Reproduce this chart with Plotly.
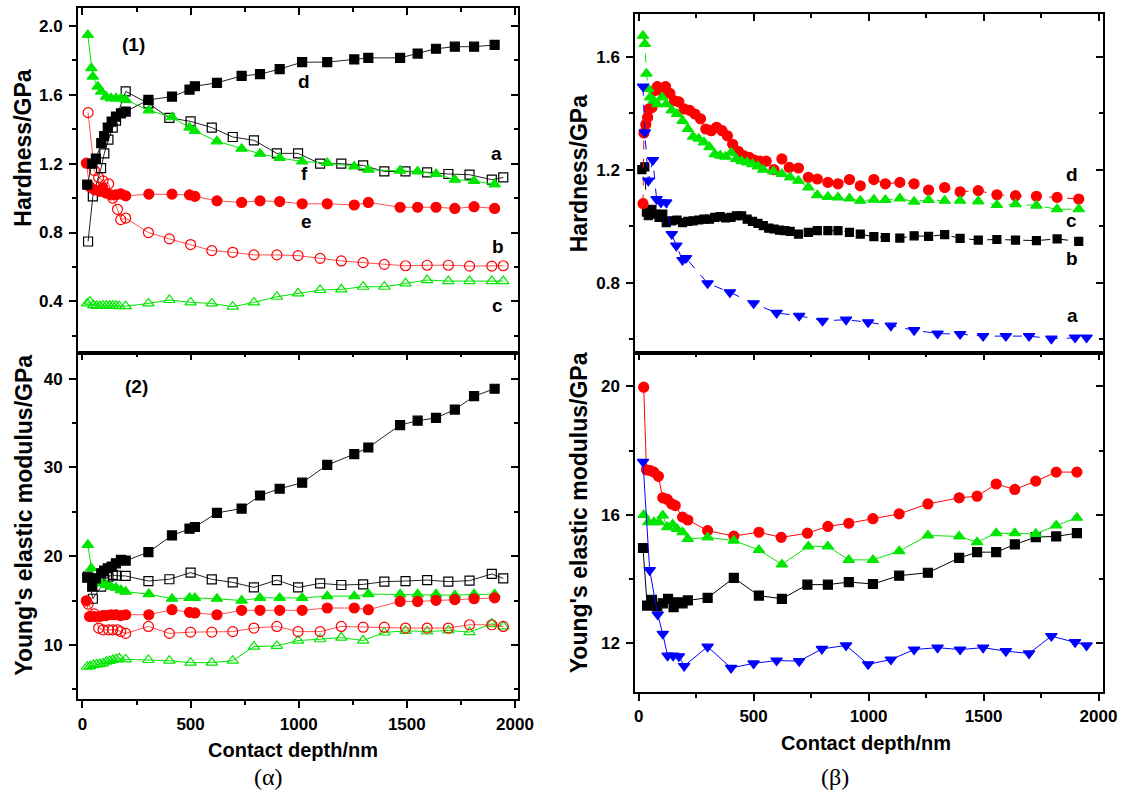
import plotly.graph_objects as go

# ---------------- (α) hardness, curves a–f ----------------
a_f_depth = [26, 48, 86, 101, 120, 140, 155, 200, 305, 402, 500, 598, 695, 793, 899, 997,
             1099, 1197, 1298, 1396, 1494, 1594, 1692, 1790, 1893, 1946]
a_f_hard = [0.748, 1.01, 1.174, 1.26, 1.34, 1.41, 1.45, 1.62, 1.55, 1.466, 1.446, 1.41, 1.355,
            1.336, 1.26, 1.26, 1.20, 1.20, 1.19, 1.155, 1.155, 1.15, 1.14, 1.136, 1.107, 1.12]
a_f_mod = [17.7, 15.2, 16.56, 17.3, 17.7, 17.9, 17.8, 17.77, 17.2, 17.4, 18.15, 17.39, 17.05,
           16.48, 17.31, 16.48, 16.94, 16.75, 16.82, 17.13, 17.2, 17.31, 17.13, 17.24, 18.0, 17.5]

a_d_depth = [22, 45, 62, 87, 100, 117, 135, 155, 178, 200, 305, 414, 495, 520, 622, 736, 821,
             912, 1016, 1132, 1257, 1322, 1469, 1550, 1635, 1722, 1811, 1906]
a_d_hard = [1.078, 1.20, 1.23, 1.32, 1.36, 1.41, 1.445, 1.474, 1.493, 1.503, 1.571, 1.59, 1.63,
            1.65, 1.67, 1.71, 1.72, 1.75, 1.79, 1.79, 1.806, 1.815, 1.815, 1.84, 1.868, 1.88,
            1.88, 1.89]
a_d_mod = [17.58, 16.56, 17.5, 18.07, 18.37, 18.64, 18.83, 19.2, 19.58, 19.5, 20.45, 22.34,
           23.1, 23.29, 24.88, 25.37, 26.84, 27.6, 28.28, 30.28, 31.5, 32.25, 34.78, 35.27,
           35.58, 36.52, 38.03, 38.87]

a_a_depth = [25, 41, 48, 71, 87, 109, 132, 155, 178, 200, 307, 414, 495, 520, 622, 736, 821,
             912, 1016, 1132, 1257, 1322, 1469, 1550, 1635, 1722, 1811, 1906]
a_a_hard = [1.948, 1.755, 1.706, 1.648, 1.619, 1.59, 1.58, 1.58, 1.58, 1.571, 1.51, 1.47, 1.41,
            1.39, 1.33, 1.287, 1.258, 1.233, 1.213, 1.204, 1.184, 1.165, 1.16, 1.155, 1.14,
            1.107, 1.10, 1.08]
a_a_mod = [21.28, 18.64, 17.6, 17.13, 16.94, 16.75, 16.56, 16.44, 16.18, 15.99, 15.73, 15.2,
           15.3, 15.3, 15.2, 15.0, 15.3, 15.3, 15.3, 15.5, 15.5, 15.73, 15.7, 15.7, 15.7, 15.6,
           15.7, 15.7]

a_e_depth = [18, 33, 56, 79, 94, 109, 132, 155, 177, 200, 307, 414, 495, 520, 622, 736, 821,
             912, 1016, 1132, 1257, 1322, 1469, 1550, 1635, 1722, 1811, 1906]
a_e_hard = [1.203, 1.068, 1.048, 1.039, 1.06, 1.029, 1.019, 1.019, 1.025, 1.013, 1.023, 1.023,
            1.019, 1.01, 0.984, 0.975, 0.984, 0.98, 0.967, 0.967, 0.96, 0.975, 0.947, 0.947,
            0.947, 0.94, 0.95, 0.94]
a_e_mod = [14.97, 13.2, 13.2, 13.2, 13.3, 13.3, 13.4, 13.4, 13.3, 13.4, 13.4, 13.97, 13.67,
           13.6, 13.4, 13.9, 13.9, 13.9, 13.9, 14.16, 14.16, 13.97, 14.9, 14.9, 15.03, 15.1,
           15.2, 15.3]

a_b_depth = [26, 55, 75, 95, 121, 140, 162, 177, 200, 305, 402, 500, 598, 695, 793, 899, 997,
             1099, 1197, 1298, 1396, 1494, 1594, 1692, 1790, 1893, 1946]
a_b_hard = [1.497, 1.16, 1.12, 1.10, 1.083, 1.0, 0.935, 0.875, 0.884, 0.80, 0.763, 0.73, 0.695,
            0.685, 0.67, 0.67, 0.666, 0.65, 0.635, 0.625, 0.615, 0.607, 0.61, 0.61, 0.605,
            0.605, 0.607]
a_b_mod = [14.6, 13.5, 11.9, 11.7, 11.7, 11.7, 11.7, 11.5, 11.3, 12.08, 11.3, 11.44, 11.44,
           11.5, 11.9, 12.08, 11.5, 11.5, 12.08, 12.0, 12.0, 11.9, 11.9, 11.9, 12.27, 12.27,
           12.08]

a_c_depth = [22, 35, 50, 65, 80, 95, 110, 125, 140, 155, 170, 200, 305, 402, 500, 598, 695,
             793, 899, 997, 1099, 1197, 1298, 1396, 1494, 1594, 1692, 1790, 1893, 1946]
a_c_hard = [0.388, 0.398, 0.378, 0.373, 0.373, 0.375, 0.375, 0.374, 0.375, 0.374, 0.372, 0.372,
            0.388, 0.408, 0.394, 0.388, 0.369, 0.394, 0.427, 0.447, 0.466, 0.47, 0.485, 0.485,
            0.505, 0.524, 0.518, 0.518, 0.518, 0.518]
a_c_mod = [7.54, 7.6, 7.73, 7.8, 7.84, 7.92, 8.1, 8.2, 8.3, 8.4, 8.49, 8.37, 8.3, 8.22, 8.0,
           8.0, 8.22, 9.81, 9.89, 10.49, 10.64, 10.83, 10.49, 11.4, 11.59, 11.51, 11.63, 11.44,
           12.38, 12.08]

# ---------------- (β) hardness, curves a–d ----------------
b_d_h_depth = [19, 23, 31, 39, 45, 58, 70, 81, 97, 117, 136, 156, 175, 198, 222, 245, 269, 292,
               316, 339, 363, 386, 409, 433, 456, 480, 503, 527, 555, 589, 623, 655, 695, 738,
               777, 823, 867, 917, 964, 1023, 1073, 1136, 1198, 1261, 1331, 1398, 1477, 1558,
               1639, 1730, 1820, 1914]
b_d_hard = [1.08, 1.33, 1.36, 1.385, 1.415, 1.42, 1.48, 1.494, 1.48, 1.494, 1.47, 1.444, 1.44,
            1.415, 1.41, 1.397, 1.38, 1.344, 1.338, 1.35, 1.338, 1.32, 1.29, 1.265, 1.25, 1.244,
            1.234, 1.23, 1.23, 1.2, 1.238, 1.208, 1.206, 1.173, 1.167, 1.155, 1.15, 1.165,
            1.143, 1.165, 1.15, 1.155, 1.15, 1.128, 1.137, 1.122, 1.126, 1.111, 1.108, 1.106,
            1.102, 1.096]

b_c_h_depth = [19, 27, 34, 42, 50, 66, 81, 102, 120, 144, 167, 191, 214, 237, 261, 284, 308,
               331, 355, 378, 402, 425, 448, 472, 495, 519, 542, 586, 623, 659, 695, 738, 777,
               823, 867, 917, 964, 1023, 1073, 1136, 1198, 1261, 1331, 1398, 1477, 1558, 1639,
               1730, 1820, 1914]
b_c_hard = [1.674, 1.645, 1.54, 1.486, 1.456, 1.444, 1.432, 1.456, 1.432, 1.41, 1.397, 1.373,
            1.344, 1.317, 1.31, 1.297, 1.28, 1.255, 1.25, 1.246, 1.26, 1.238, 1.23, 1.226, 1.22,
            1.212, 1.2, 1.194, 1.185, 1.173, 1.161, 1.137, 1.11, 1.104, 1.102, 1.098, 1.09,
            1.094, 1.093, 1.098, 1.087, 1.093, 1.09, 1.09, 1.088, 1.075, 1.078, 1.073, 1.06,
            1.06]

b_b_h_depth = [14, 27, 34, 42, 58, 73, 89, 105, 120, 144, 167, 191, 214, 237, 261, 284, 308,
               331, 355, 378, 402, 425, 448, 472, 495, 519, 542, 566, 589, 613, 636, 659, 695,
               738, 777, 823, 867, 917, 964, 1023, 1073, 1136, 1198, 1261, 1331, 1398, 1477,
               1558, 1639, 1730, 1820, 1914]
b_b_hard = [1.2, 1.21, 1.05, 1.037, 1.06, 1.043, 1.031, 1.043, 1.013, 1.019, 1.022, 1.013,
            1.017, 1.019, 1.022, 1.025, 1.025, 1.031, 1.034, 1.029, 1.031, 1.037, 1.037, 1.025,
            1.017, 1.01, 1.002, 0.993, 0.99, 0.986, 0.984, 0.982, 0.972, 0.978, 0.984, 0.984,
            0.984, 0.978, 0.972, 0.963, 0.96, 0.958, 0.966, 0.964, 0.97, 0.957, 0.951, 0.953,
            0.951, 0.949, 0.955, 0.946]

b_a_h_depth = [19, 27, 42, 62, 78, 97, 120, 144, 164, 191, 206, 300, 397, 500, 600, 698, 800,
               902, 998, 1097, 1198, 1300, 1398, 1498, 1597, 1698, 1795, 1898, 1948]
b_a_hard = [1.494, 1.332, 1.161, 1.234, 1.096, 1.084, 1.084, 0.972, 0.931, 0.88, 0.887, 0.798,
            0.766, 0.727, 0.693, 0.683, 0.665, 0.669, 0.66, 0.648, 0.632, 0.62, 0.618, 0.611,
            0.611, 0.611, 0.602, 0.606, 0.606]

# ---------------- (β) elastic modulus ----------------
b_d_m_depth = [22, 34, 50, 66, 86, 105, 125, 144, 159, 191, 214, 300, 414, 523, 620, 734, 823,
               914, 1019, 1133, 1258, 1394, 1472, 1555, 1636, 1727, 1816, 1906]
b_d_mod = [19.97, 17.4, 17.38, 17.33, 17.2, 16.53, 16.48, 16.34, 16.29, 15.93, 15.84, 15.51,
           15.34, 15.46, 15.3, 15.43, 15.64, 15.74, 15.88, 16.03, 16.34, 16.53, 16.58, 16.96,
           16.79, 17.05, 17.33, 17.33]

b_c_m_depth = [22, 42, 66, 89, 105, 125, 148, 167, 191, 214, 300, 414, 523, 623, 738, 823, 914,
               1019, 1133, 1258, 1394, 1472, 1555, 1636, 1727, 1816, 1906]
b_c_mod = [16.0, 15.77, 15.77, 15.77, 15.98, 15.62, 15.7, 15.56, 15.46, 15.25, 15.3, 15.2,
           14.91, 14.46, 15.02, 15.02, 14.6, 14.6, 14.87, 15.36, 15.33, 15.15, 15.43, 15.43,
           15.41, 15.67, 15.91]

b_b_m_depth = [19, 37, 58, 81, 105, 128, 152, 170, 191, 214, 300, 414, 523, 623, 734, 823, 914,
               1019, 1133, 1258, 1394, 1472, 1555, 1636, 1727, 1816, 1906]
b_b_mod = [14.97, 13.18, 13.36, 13.15, 13.25, 13.39, 13.13, 13.28, 13.25, 13.34, 13.42, 14.04,
           13.49, 13.39, 13.83, 13.83, 13.91, 13.85, 14.11, 14.2, 14.66, 14.84, 14.84, 15.08,
           15.31, 15.33, 15.43]

b_a_m_depth = [19, 48, 83, 105, 126, 150, 175, 198, 300, 402, 500, 600, 698, 797, 902, 998,
               1097, 1198, 1300, 1398, 1498, 1597, 1698, 1795, 1898, 1948]
b_a_mod = [17.65, 14.28, 12.9, 12.3, 11.62, 11.62, 11.6, 11.3, 11.9, 11.24, 11.38, 11.47,
           11.45, 11.83, 11.94, 11.35, 11.5, 11.81, 11.87, 11.81, 11.87, 11.76, 11.69, 12.23,
           12.04, 11.94]

# curve labels: (text, depth, value)
alpha_labels = [("d", 1024, 1.68), ("a", 1915, 1.262), ("f", 1029, 1.145),
                ("e", 1034, 0.864), ("b", 1920, 0.718), ("c", 1918, 0.378)]
beta_labels = [("d", 1883, 1.182), ("c", 1883, 1.019), ("b", 1886, 0.884), ("a", 1886, 0.683)]

# ---------------- styling ----------------
W, H = 1142, 796
BLACK, RED, GREEN, BLUE = "#000000", "#ff0000", "#00e600", "#0000ff"
SANS = "Liberation Sans, Arial, sans-serif"
TICKFONT = dict(family=SANS, size=17, color="black", weight="bold")


def fx(p):
    return p / W


def fy(p):
    return 1 - p / H


A_DOM = [fx(78.3), fx(525)]
B_DOM = [fx(644), fx(1119)]
AU_DOM = [fy(353), fy(8.3)]
AL_DOM = [fy(699.3), fy(353)]
BU_DOM = [fy(352.5), fy(14)]
BL_DOM = [fy(691.7), fy(352.5)]

A_XR = [-20, 2015]
B_XR = [-14, 2021]

fig = go.Figure()


def add(x, y, xa, ya, color, symbol, size, dash="solid", lcolor=None, lw=1.0):
    fig.add_trace(go.Scatter(
        x=x, y=y, xaxis=xa, yaxis=ya, mode="lines+markers",
        line=dict(color=lcolor or color, width=lw, dash=dash),
        marker=dict(symbol=symbol, size=size, color=color,
                    line=dict(color=color, width=1.2)),
        showlegend=False, hoverinfo="skip"))


# (α)(1) hardness
add(a_c_depth, a_c_hard, "x", "y", GREEN, "triangle-up-open", 10)
add(a_b_depth, a_b_hard, "x", "y", RED, "circle-open", 10, lcolor="#ff5050")
add(a_f_depth, a_f_hard, "x", "y", BLACK, "square-open", 9, lcolor="#222222")
add(a_a_depth, a_a_hard, "x", "y", GREEN, "triangle-up", 10)
add(a_e_depth, a_e_hard, "x", "y", RED, "circle", 10, lcolor="#ff5050")
add(a_d_depth, a_d_hard, "x", "y", BLACK, "square", 9, lcolor="#222222")

# (α)(2) modulus
add(a_c_depth, a_c_mod, "x2", "y2", GREEN, "triangle-up-open", 10)
add(a_b_depth, a_b_mod, "x2", "y2", RED, "circle-open", 10, lcolor="#ff5050")
add(a_f_depth, a_f_mod, "x2", "y2", BLACK, "square-open", 9, lcolor="#222222")
add(a_a_depth, a_a_mod, "x2", "y2", GREEN, "triangle-up", 10)
add(a_e_depth, a_e_mod, "x2", "y2", RED, "circle", 10, lcolor="#ff5050")
add(a_d_depth, a_d_mod, "x2", "y2", BLACK, "square", 9, lcolor="#222222")

# (β) hardness
add(b_b_h_depth, b_b_hard, "x3", "y3", BLACK, "square", 8, dash="dash")
add(b_d_h_depth, b_d_hard, "x3", "y3", RED, "circle", 10, dash="dash")
add(b_c_h_depth, b_c_hard, "x3", "y3", GREEN, "triangle-up", 10, dash="dash")
add(b_a_h_depth, b_a_hard, "x3", "y3", BLUE, "triangle-down", 10, dash="dash")

# (β) modulus
add(b_b_m_depth, b_b_mod, "x4", "y4", BLACK, "square", 9)
add(b_d_m_depth, b_d_mod, "x4", "y4", RED, "circle", 10)
add(b_c_m_depth, b_c_mod, "x4", "y4", GREEN, "triangle-up", 10)
add(b_a_m_depth, b_a_mod, "x4", "y4", BLUE, "triangle-down", 10)

# empty traces so the mirrored frame axes get their own subplots
for k in (5, 6, 7, 8):
    fig.add_trace(go.Scatter(x=[], y=[], xaxis=f"x{k}", yaxis=f"y{k}",
                             showlegend=False, hoverinfo="skip"))


def base_axis(rng, dtick, minor_dtick, **kw):
    d = dict(range=rng, dtick=dtick, tick0=0, showline=True, linecolor="black",
             linewidth=2, ticks="outside", ticklen=7, tickwidth=1.8, tickcolor="black",
             minor=dict(ticks="outside", ticklen=4, tickwidth=1.5, dtick=minor_dtick,
                        tick0=0, tickcolor="black", showgrid=False),
             showgrid=False, zeroline=False, tickfont=TICKFONT, fixedrange=True)
    d.update(kw)
    return d


def frame_axis(rng, dtick, minor_dtick, **kw):
    d = base_axis(rng, dtick, minor_dtick, ticks="inside", showticklabels=False)
    d["minor"]["ticks"] = "inside"
    d.update(kw)
    return d


layout = dict(
    width=W, height=H, margin=dict(l=0, r=0, t=0, b=0),
    paper_bgcolor="white", plot_bgcolor="white", showlegend=False,
    # (α) upper
    xaxis=base_axis(A_XR, 500, 250, domain=A_DOM, anchor="y", ticks="",
                    showticklabels=False, minor=dict(ticks="")),
    yaxis=base_axis([0.1, 2.103], 0.4, 0.2, domain=AU_DOM, anchor="x",
                    tickformat=".1f", ticklabelstandoff=3),
    # (α) lower
    xaxis2=base_axis(A_XR, 500, 250, domain=A_DOM, anchor="y2", ticklabelstandoff=1),
    yaxis2=base_axis([3.87, 42.9], 10, 5, domain=AL_DOM, anchor="x2", ticklabelstandoff=3),
    # (β) upper
    xaxis3=base_axis(B_XR, 500, 250, domain=B_DOM, anchor="y3", ticks="",
                     showticklabels=False, minor=dict(ticks="")),
    yaxis3=base_axis([0.553, 1.751], 0.4, 0.2, domain=BU_DOM, anchor="x3",
                     tickformat=".1f", ticklabelstandoff=3),
    # (β) lower
    xaxis4=base_axis(B_XR, 500, 250, domain=B_DOM, anchor="y4", ticklabelstandoff=1),
    yaxis4=base_axis([10.5, 21.05], 4, 2, domain=BL_DOM, anchor="x4", ticklabelstandoff=3),
    # inward-ticked top / right frame axes
    xaxis5=frame_axis(A_XR, 500, 250, overlaying="x", side="top", anchor="y5"),
    yaxis5=frame_axis([0.1, 2.103], 0.4, 0.2, overlaying="y", side="right", anchor="x5"),
    xaxis6=frame_axis(A_XR, 500, 250, overlaying="x2", side="top", anchor="y6"),
    yaxis6=frame_axis([3.87, 42.9], 10, 5, overlaying="y2", side="right", anchor="x6"),
    xaxis7=frame_axis(B_XR, 500, 250, overlaying="x3", side="top", anchor="y7"),
    yaxis7=frame_axis([0.553, 1.751], 0.4, 0.2, overlaying="y3", side="right", anchor="x7"),
    xaxis8=frame_axis(B_XR, 500, 250, overlaying="x4", side="top", anchor="y8"),
    yaxis8=frame_axis([10.5, 21.05], 4, 2, overlaying="y4", side="right", anchor="x8"),
)
fig.update_layout(**layout)

BOLD = dict(family=SANS, color="black", weight="bold")
ann = []


def paper_text(text, x, y, size, angle=0, family=None, weight="bold"):
    f = dict(BOLD, size=size, weight=weight)
    if family:
        f["family"] = family
    ann.append(dict(text=text, xref="paper", yref="paper", x=fx(x), y=fy(y),
                    xanchor="center", yanchor="middle", showarrow=False,
                    textangle=angle, font=f))


def data_text(text, x, y, xr, yr, size=19):
    ann.append(dict(text=text, xref=xr, yref=yr, x=x, y=y, xanchor="center",
                    yanchor="middle", showarrow=False, font=dict(BOLD, size=size)))


paper_text("Hardness/GPa", 22, 148, 23, angle=-90)
paper_text("Young's elastic modulus/GPa", 23, 515, 23, angle=-90)
paper_text("Hardness/GPa", 587, 174, 23, angle=-90)
paper_text("Young's elastic modulus/GPa", 587, 513, 23, angle=-90)
paper_text("Contact depth/nm", 296, 750, 20)
paper_text("Contact depth/nm", 878, 743, 20)
paper_text("(α)", 272, 777, 24, family="Liberation Serif, Times New Roman, serif",
           weight="normal")
paper_text("(β)", 847, 777, 24, family="Liberation Serif, Times New Roman, serif",
           weight="normal")

data_text("(1)", 238, 1.89, "x", "y", 19)
data_text("(2)", 250, 39.15, "x2", "y2", 19)
for t, xv, yv in alpha_labels:
    data_text(t, xv, yv, "x", "y")
for t, xv, yv in beta_labels:
    data_text(t, xv, yv, "x3", "y3")

fig.update_layout(annotations=ann)
fig.write_html("out.html")
